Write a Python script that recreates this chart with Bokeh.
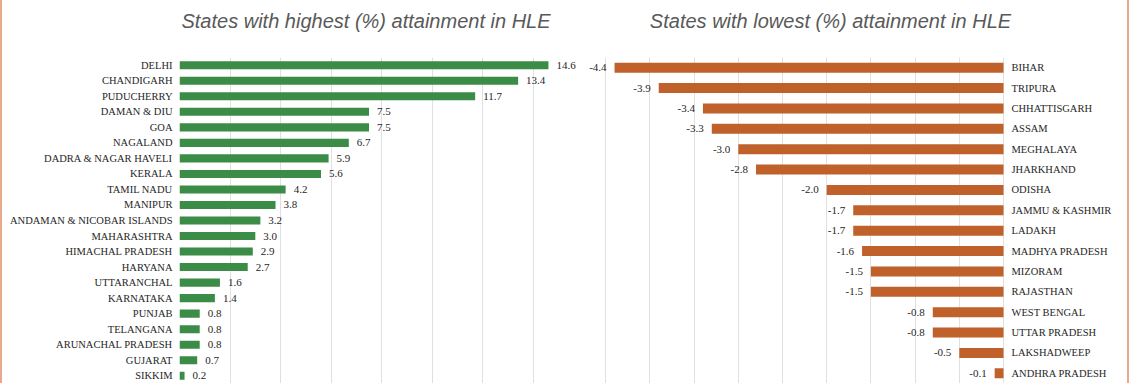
from bokeh.plotting import figure
from bokeh.models import (FactorRange, Range1d, CategoricalAxis, Grid, FixedTicker,
                          ColumnDataSource, Spacer)
from bokeh.layouts import row, column
from bokeh.core.properties import value
from bokeh.embed import file_html
from bokeh.resources import INLINE

# ---------------- data ----------------
high_states = ["DELHI", "CHANDIGARH", "PUDUCHERRY", "DAMAN & DIU", "GOA", "NAGALAND",
               "DADRA & NAGAR HAVELI", "KERALA", "TAMIL NADU", "MANIPUR",
               "ANDAMAN & NICOBAR ISLANDS", "MAHARASHTRA", "HIMACHAL PRADESH", "HARYANA",
               "UTTARANCHAL", "KARNATAKA", "PUNJAB", "TELANGANA", "ARUNACHAL PRADESH",
               "GUJARAT", "SIKKIM"]
high_values = [14.6, 13.4, 11.7, 7.5, 7.5, 6.7, 5.9, 5.6, 4.2, 3.8, 3.2, 3.0, 2.9, 2.7,
               1.6, 1.4, 0.8, 0.8, 0.8, 0.7, 0.2]

low_states = ["BIHAR", "TRIPURA", "CHHATTISGARH", "ASSAM", "MEGHALAYA", "JHARKHAND",
              "ODISHA", "JAMMU & KASHMIR", "LADAKH", "MADHYA PRADESH", "MIZORAM",
              "RAJASTHAN", "WEST BENGAL", "UTTAR PRADESH", "LAKSHADWEEP", "ANDHRA PRADESH"]
low_values = [-4.4, -3.9, -3.4, -3.3, -3.0, -2.8, -2.0, -1.7, -1.7, -1.6, -1.5, -1.5,
              -0.8, -0.8, -0.5, -0.1]

titles = ["States with highest (%) attainment in HLE",
          "States with lowest (%) attainment in HLE"]
high_grid = [0, 2, 4, 6, 8, 10, 12, 14]
low_grid = [-4.5, -4.0, -3.5, -3.0, -2.5, -2.0, -1.5, -1.0, -0.5, 0.0]

# ---------------- styling / layout ----------------
GREEN = "#3b8c46"
ORANGE = "#c0612b"
BORDER = "#e8a98b"
TXT = "#262626"
GRIDC = "#e0e0e0"

PAD = 2                      # width of the coloured side borders
FIG_W = 1125
HEAD_H = 57
MAIN_H = 383 - HEAD_H
MB_L, MB_R = 177, 114
FRAME_L = PAD + MB_L          # page x of frame left (zero of left panel)
FRAME_R = PAD + FIG_W - MB_R  # page x of frame right
ZERO_R = 1003                 # page x of zero of right panel
HIGH_PX = 25.27               # px per unit, left panel
LOW_PX = 88.4                 # px per unit, right panel

# ---------------- header with the two titles ----------------
head = figure(width=FIG_W, height=HEAD_H, output_backend="svg", toolbar_location=None,
              x_range=Range1d(FRAME_L, FRAME_R), y_range=Range1d(0, HEAD_H),
              x_axis_location=None, y_axis_location=None,
              min_border_left=MB_L, min_border_right=MB_R,
              min_border_top=0, min_border_bottom=0)
head.grid.visible = False
head.outline_line_color = None
head.text(x=[365.5, 830], y=[HEAD_H - 20, HEAD_H - 20], text=titles,
          text_align="center", text_baseline="middle",
          text_font=value("Liberation Sans"), text_font_style="italic",
          text_font_size="20px", text_color="#595959")

# ---------------- main chart ----------------
src_h = ColumnDataSource(dict(state=high_states, val=high_values,
                              lab=["%.1f" % v for v in high_values]))
src_l = ColumnDataSource(dict(state=low_states, val=low_values,
                              lab=["%.1f" % v for v in low_values]))

p = figure(width=FIG_W, height=MAIN_H, output_backend="svg", toolbar_location=None,
           x_range=Range1d(0, (FRAME_R - FRAME_L) / HIGH_PX),
           y_range=FactorRange(factors=high_states[::-1]),
           x_axis_location=None, y_axis_location="left",
           min_border_left=MB_L, min_border_right=MB_R,
           min_border_top=0, min_border_bottom=0)
p.extra_x_ranges = {"neg": Range1d(-(ZERO_R - FRAME_L) / LOW_PX, (FRAME_R - ZERO_R) / LOW_PX)}
p.extra_y_ranges = {"low": FactorRange(factors=low_states[::-1])}

p.outline_line_color = None

# grids
p.ygrid.visible = False
p.xgrid.ticker = FixedTicker(ticks=high_grid)
p.xgrid.grid_line_color = GRIDC
p.add_layout(Grid(dimension=0, ticker=FixedTicker(ticks=low_grid),
                  x_range_name="neg", grid_line_color=GRIDC))

# axes
def style_axis(ax, standoff):
    ax.axis_line_color = None
    ax.major_tick_line_color = None
    ax.minor_tick_line_color = None
    ax.major_label_standoff = standoff
    ax.major_label_text_font = "Liberation Serif"
    ax.major_label_text_font_size = "10.5px"
    ax.major_label_text_color = TXT

style_axis(p.yaxis[0], 1)
ax_r = CategoricalAxis(y_range_name="low")
style_axis(ax_r, 2 - (FRAME_R - ZERO_R))
p.add_layout(ax_r, "right")

# bars
p.hbar(y="state", left=0, right="val", height=0.52, source=src_h,
       fill_color=GREEN, line_color=None)
p.hbar(y="state", left="val", right=0, height=0.49, source=src_l,
       fill_color=ORANGE, line_color=None, x_range_name="neg", y_range_name="low")

# value labels
p.text(x="val", y="state", text="lab", source=src_h, x_offset=8,
       text_align="left", text_baseline="middle",
       text_font=value("Liberation Serif"), text_font_size="11px", text_color=TXT)
p.text(x="val", y="state", text="lab", source=src_l, x_offset=-8,
       text_align="right", text_baseline="middle",
       text_font=value("Liberation Serif"), text_font_size="11px", text_color=TXT,
       x_range_name="neg", y_range_name="low")

body = column(head, p, spacing=0)
lay = row(Spacer(width=PAD, height=383, styles={"background-color": BORDER}),
          body,
          Spacer(width=PAD, height=383, styles={"background-color": BORDER}))

open("out.html", "w").write(file_html(lay, INLINE))
